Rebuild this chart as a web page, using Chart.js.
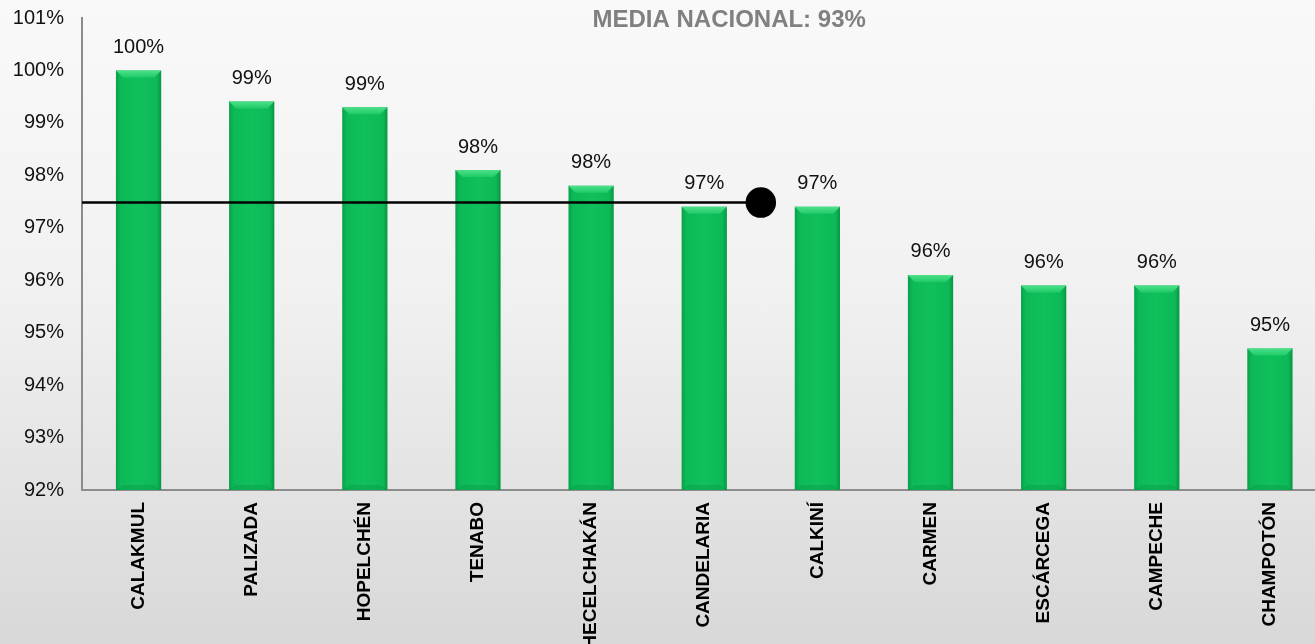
<!DOCTYPE html>
<html>
<head>
<meta charset="utf-8">
<script src="https://cdn.jsdelivr.net/npm/chart.js@4/dist/chart.umd.min.js"></script>
<style>
  html, body { margin: 0; padding: 0; overflow: hidden; width: 1315px; height: 644px; }
  #wrap { position: relative; width: 1343px; height: 644px;
          background: linear-gradient(to bottom, #f9f9f9 0%, #f1f1f1 45%, #d8d8d8 100%); }
  canvas { display: block; }
</style>
</head>
<body>
<div id="wrap"><canvas id="c" width="1343" height="644"></canvas></div>
<script>
const categories = ['CALAKMUL', 'PALIZADA', 'HOPELCHÉN', 'TENABO', 'HECELCHAKÁN', 'CANDELARIA', 'CALKINÍ', 'CARMEN', 'ESCÁRCEGA', 'CAMPECHE', 'CHAMPOTÓN'];
const coverage = [100, 99.41, 99.3, 98.1, 97.8, 97.4, 97.4, 96.1, 95.9, 95.9, 94.7];
const valueLabels = ['100%', '99%', '99%', '98%', '98%', '97%', '97%', '96%', '96%', '96%', '95%'];
const yTickValues = [92, 93, 94, 95, 96, 97, 98, 99, 100, 101];
const referenceValue = 97.48;
const referenceStartX = -0.5;
const referenceEndX = 5.5;
const titleText = 'MEDIA NACIONAL: 93%';

const FONT = '"Liberation Sans", Arial, sans-serif';

const barStyle = {
  id: 'barStyle',
  beforeDatasetsDraw(chart) {
    const ctx = chart.ctx;
    const meta = chart.getDatasetMeta(0);
    meta.data.forEach(el => {
      const l = el.x - el.width / 2, r = el.x + el.width / 2;
      const g = ctx.createLinearGradient(l, 0, r, 0);
      g.addColorStop(0, '#08a04a');
      g.addColorStop(0.1, '#0db957');
      g.addColorStop(0.5, '#0fc05b');
      g.addColorStop(0.9, '#0db957');
      g.addColorStop(1, '#079545');
      el.options = Object.assign({}, el.options, { backgroundColor: g });
    });
  },
  afterDatasetsDraw(chart) {
    const ctx = chart.ctx;
    const meta = chart.getDatasetMeta(0);
    const base = chart.scales.y.getPixelForValue(chart.scales.y.min);
    ctx.save();
    meta.data.forEach((el, i) => {
      const l = el.x - el.width / 2, r = el.x + el.width / 2, t = el.y;
      const bevel = 7;
      const tg = ctx.createLinearGradient(0, t, 0, t + bevel);
      tg.addColorStop(0, '#4ee08a');
      tg.addColorStop(1, '#1fcb68');
      ctx.beginPath();
      ctx.moveTo(l, t); ctx.lineTo(r, t); ctx.lineTo(r - bevel, t + bevel); ctx.lineTo(l + bevel, t + bevel); ctx.closePath();
      ctx.fillStyle = tg;
      ctx.fill();
      ctx.beginPath();
      ctx.moveTo(l, base); ctx.lineTo(r, base); ctx.lineTo(r - bevel, base - 5); ctx.lineTo(l + bevel, base - 5); ctx.closePath();
      ctx.fillStyle = 'rgba(0,110,50,0.18)';
      ctx.fill();
      ctx.fillStyle = '#111111';
      ctx.font = '20px ' + FONT;
      ctx.textAlign = 'center';
      ctx.textBaseline = 'middle';
      ctx.fillText(valueLabels[i], el.x, t - 23);
    });
    ctx.restore();
  }
};

const titlePlugin = {
  id: 'titlePlugin',
  afterDraw(chart) {
    const ctx = chart.ctx;
    const xs = chart.scales.x2;
    ctx.save();
    ctx.fillStyle = '#808080';
    ctx.font = 'bold 24px ' + FONT;
    ctx.textAlign = 'center';
    ctx.textBaseline = 'middle';
    ctx.fillText(titleText, xs.getPixelForValue(5.22), 20);
    ctx.restore();
  }
};

new Chart(document.getElementById('c'), {
  type: 'bar',
  data: {
    labels: categories,
    datasets: [
      {
        type: 'bar',
        data: coverage,
        backgroundColor: '#0fc05b',
        borderWidth: 0,
        barPercentage: 0.4,
        categoryPercentage: 1.0,
        grouped: false,
        xAxisID: 'x',
        yAxisID: 'y',
        order: 2
      },
      {
        type: 'line',
        data: [{ x: referenceStartX, y: referenceValue }, { x: referenceEndX, y: referenceValue }],
        xAxisID: 'x2',
        yAxisID: 'y',
        borderColor: '#000000',
        borderWidth: 2.5,
        pointRadius: [0, 14],
        pointHoverRadius: [0, 14],
        pointBackgroundColor: '#000000',
        pointBorderColor: '#000000',
        fill: false,
        clip: false,
        order: 1
      }
    ]
  },
  options: {
    responsive: false,
    maintainAspectRatio: false,
    animation: false,
    layout: { padding: { top: 18, right: 0, left: 0, bottom: 0 } },
    plugins: { legend: { display: false }, tooltip: { enabled: false }, title: { display: false } },
    scales: {
      x: {
        type: 'category',
        offset: true,
        grid: { display: false, drawTicks: false, offset: true },
        border: { display: true, color: '#8c8c8c', width: 2 },
        ticks: {
          color: '#000000',
          font: { family: FONT, size: 19, weight: 'bold' },
          minRotation: 90, maxRotation: 90,
          autoSkip: false,
          padding: 12
        },
        afterFit(scale) { scale.height = 154; scale.paddingLeft = 0; scale.paddingRight = 0; scale.paddingTop = 0; scale.paddingBottom = 0; }
      },
      x2: {
        type: 'linear',
        display: false,
        offset: false,
        min: -0.5,
        max: 10.5
      },
      y: {
        min: 92, max: 101,
        grid: { display: false, drawTicks: false },
        border: { display: true, color: '#8c8c8c', width: 2 },
        afterBuildTicks(scale) { scale.ticks = yTickValues.map(v => ({ value: v })); },
        ticks: {
          color: '#111111',
          font: { family: FONT, size: 20 },
          padding: 18,
          callback: v => v + '%'
        },
        afterFit(scale) { scale.width = 82; scale.paddingTop = 0; scale.paddingBottom = 0; }
      }
    }
  },
  plugins: [barStyle, titlePlugin]
});
</script>
</body>
</html>
